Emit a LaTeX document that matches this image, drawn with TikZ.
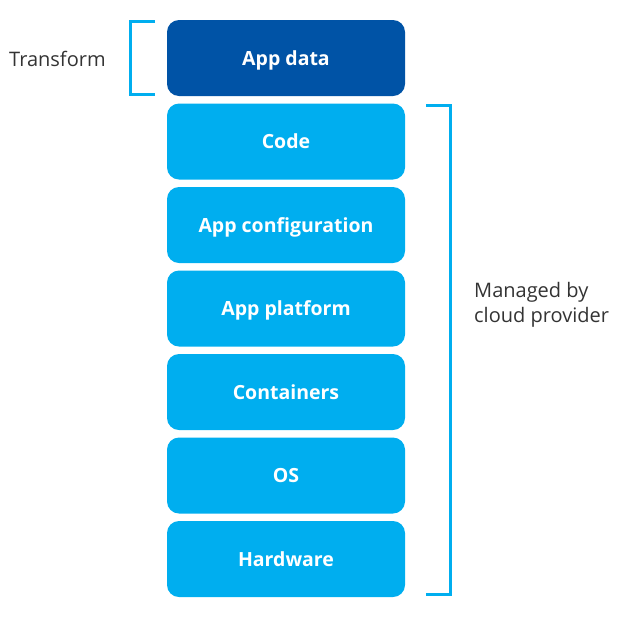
\documentclass[tikz,border=0pt]{standalone}
\usepackage{fontspec}
\setmainfont{Open Sans}
\definecolor{darkblue}{HTML}{0053A6}
\definecolor{lightblue}{HTML}{00AEEF}
\definecolor{labelgray}{HTML}{333333}
\begin{document}
\begin{tikzpicture}[x=1pt,y=-1pt,
  layer/.style={fill=lightblue, rounded corners=12pt, minimum width=238pt, minimum height=76pt, inner sep=0pt, text height=15pt, text depth=1pt, text=white, font=\fontsize{19.5}{22}\selectfont\bfseries},
  toplayer/.style={layer, fill=darkblue},
  bracket/.style={draw=lightblue, line width=3pt},
  lbl/.style={text=labelgray, font=\fontsize{20}{25}\selectfont, align=left, inner sep=0pt}]
\useasboundingbox (0,0) rectangle (640,638);
\node[toplayer] (appdata) at (286,58) {App data};
\node[layer] (code) at (286,141.5) {Code};
\node[layer] (config) at (286,225) {App configuration};
\node[layer] (platform) at (286,308.5) {App platform};
\node[layer] (containers) at (286,392) {Containers};
\node[layer] (os) at (286,475.5) {OS};
\node[layer] (hw) at (286,559) {Hardware};
\coordinate (lb1) at (155,21.5);
\coordinate (lb2) at (130.5,21.5);
\coordinate (lb3) at (130.5,94.5);
\coordinate (lb4) at (155,94.5);
\draw[bracket] (lb1) -- (lb2) -- (lb3) -- (lb4);
\coordinate (rb1) at (426,105);
\coordinate (rb2) at (450.5,105);
\coordinate (rb3) at (450.5,594);
\coordinate (rb4) at (426,594);
\draw[bracket] (rb1) -- (rb2) -- (rb3) -- (rb4);
\node[lbl, anchor=west] (transform) at (9,59) {Transform};
\node[lbl, anchor=west] (managed) at (474,305) {Managed by\\cloud provider};
\end{tikzpicture}
\end{document}
